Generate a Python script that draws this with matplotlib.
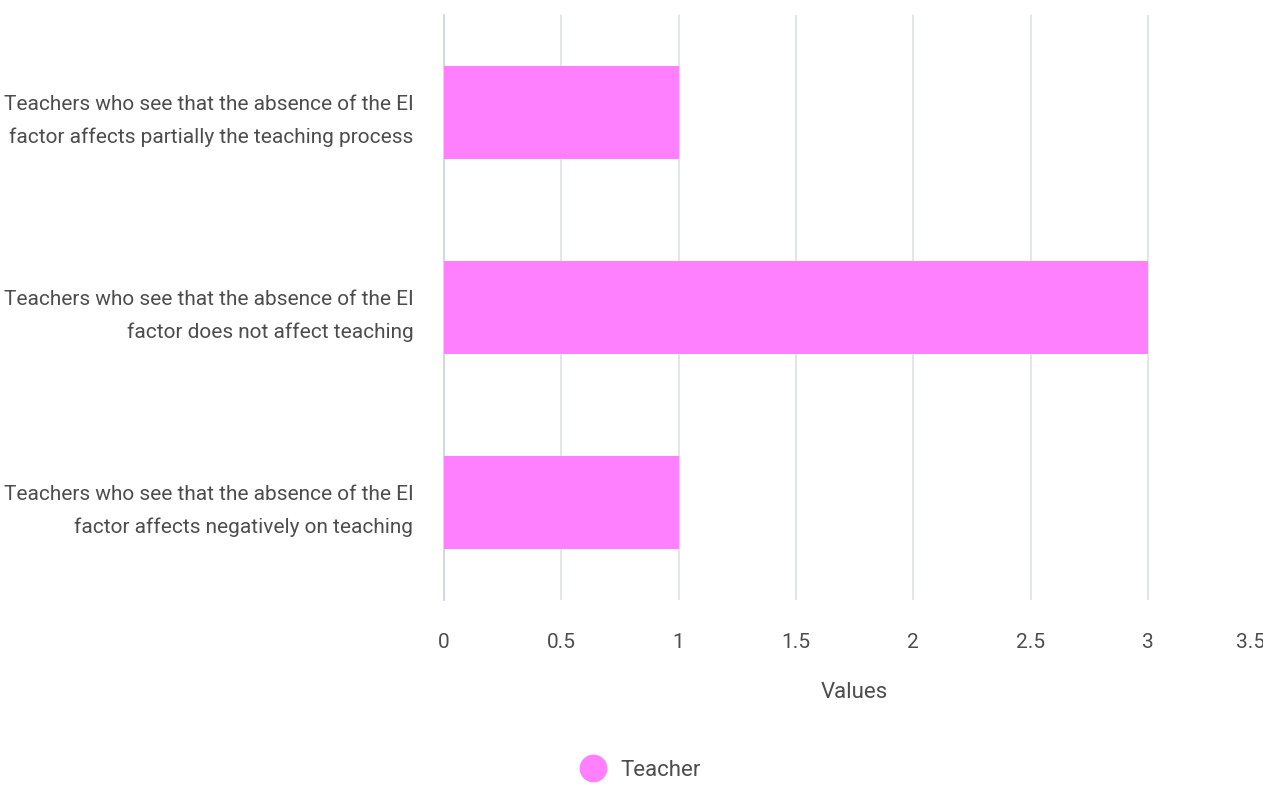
import matplotlib
matplotlib.use("Agg")
import matplotlib.pyplot as plt
from matplotlib.lines import Line2D

plt.rcParams['font.family'] = ['Roboto', 'DejaVu Sans']

categories = [
    "Teachers who see that the absence of the EI\nfactor affects partially the teaching process",
    "Teachers who see that the absence of the EI\nfactor does not affect teaching",
    "Teachers who see that the absence of the EI\nfactor affects negatively on teaching",
]
values = [1, 3, 1]
ticks = [0, 0.5, 1, 1.5, 2, 2.5, 3, 3.5]
tick_labels = ["0", "0.5", "1", "1.5", "2", "2.5", "3", "3.5"]
series_name = "Teacher"

bar_color = "#ff80ff"
text_color = "#4d4d4d"

fig = plt.figure(figsize=(12.63, 7.85), dpi=100)
ax = fig.add_axes([444 / 1263, 1 - 600 / 785, (1265.3 - 444) / 1263, 585 / 785])

ypos = list(range(len(categories)))
ax.barh(ypos, values, height=0.48, color=bar_color, zorder=3)
ax.set_ylim(len(categories) - 0.5, -0.5)
ax.set_xlim(0, 3.5)

ax.set_yticks(ypos)
ax.set_yticklabels(categories, fontsize=15, color=text_color, linespacing=1.85)
ax.set_xticks(ticks)
ax.set_xticklabels(tick_labels, fontsize=15, color=text_color)
# last tick sits on the figure edge, pull its label inward
ax.get_xticklabels()[-1].set_horizontalalignment('right')
ax.tick_params(axis='both', length=0)
ax.tick_params(axis='x', pad=24)
ax.tick_params(axis='y', pad=22)

ax.grid(axis='x', color='#dde1e6', linewidth=1.2, zorder=0)
for s in ['top', 'right', 'bottom']:
    ax.spines[s].set_visible(False)
ax.spines['left'].set_color('#c9d3e0')
ax.spines['left'].set_linewidth(1.2)

ax.set_xlabel("Values", fontsize=16, color=text_color, labelpad=21)

handle = Line2D([], [], marker='o', linestyle='none', markersize=19,
                markerfacecolor=bar_color, markeredgecolor=bar_color)
fig.legend([handle], [series_name], loc='center', bbox_to_anchor=(636 / 1263, 1 - 770 / 785),
           frameon=False, prop={'size': 16}, labelcolor=text_color,
           handletextpad=0.25)

fig.savefig("out.png", dpi=100)
